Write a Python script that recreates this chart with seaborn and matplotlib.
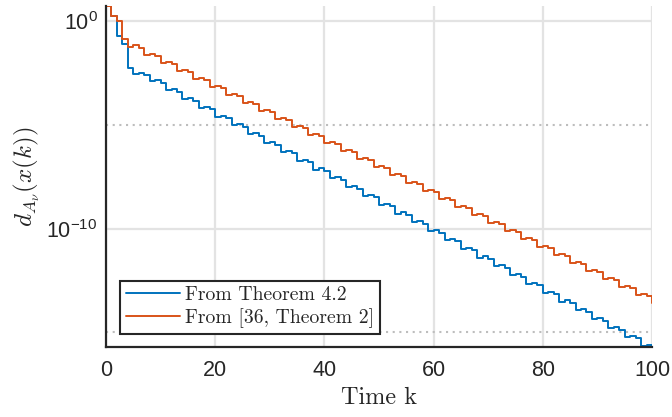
import numpy as np
import pandas as pd
import matplotlib
matplotlib.use("Agg")
import matplotlib.pyplot as plt
import matplotlib.ticker as mticker
import seaborn as sns

# ---- data (log10 of the distance) ----
k = list(range(101))

log_thm42 = [
    0.71, 0.23, -0.73, -1.13, -2.29, -2.55, -2.50, -2.62,
    -2.92, -2.86, -2.99, -3.34, -3.28, -3.41, -3.77, -3.71, -3.84,
    -4.19, -4.13, -4.26, -4.62, -4.56, -4.69, -5.04, -4.98, -5.11,
    -5.46, -5.40, -5.53, -5.89, -5.83, -5.96, -6.31, -6.25, -6.38,
    -6.74, -6.68, -6.81, -7.16, -7.10, -7.23, -7.58, -7.52, -7.65,
    -8.01, -7.95, -8.08, -8.43, -8.37, -8.50, -8.86, -8.80, -8.93,
    -9.28, -9.22, -9.35, -9.70, -9.64, -9.77, -10.13, -10.07, -10.20,
    -10.55, -10.49, -10.62, -10.98, -10.92, -11.05, -11.40, -11.34, -11.47,
    -11.82, -11.76, -11.89, -12.25, -12.19, -12.32, -12.67, -12.61, -12.74,
    -13.10, -13.04, -13.17, -13.52, -13.46, -13.59, -13.94, -13.88, -14.01,
    -14.37, -14.31, -14.44, -14.79, -14.73, -14.86, -15.22, -15.16, -15.29,
    -15.64, -15.58, -15.70,
]

log_ref36 = [
    0.71, 0.23, -0.01, -0.89, -1.26, -1.19, -1.32,
    -1.65, -1.58, -1.71, -2.04, -1.97, -2.10, -2.42, -2.35, -2.48,
    -2.81, -2.74, -2.87, -3.19, -3.12, -3.25, -3.58, -3.51, -3.64,
    -3.96, -3.89, -4.02, -4.35, -4.28, -4.41, -4.73, -4.66, -4.79,
    -5.12, -5.05, -5.18, -5.50, -5.43, -5.56, -5.89, -5.82, -5.95,
    -6.27, -6.20, -6.33, -6.66, -6.59, -6.72, -7.04, -6.97, -7.10,
    -7.43, -7.36, -7.49, -7.81, -7.74, -7.87, -8.20, -8.13, -8.26,
    -8.58, -8.51, -8.64, -8.97, -8.90, -9.03, -9.35, -9.28, -9.41,
    -9.74, -9.67, -9.80, -10.12, -10.05, -10.18, -10.51, -10.44, -10.57,
    -10.89, -10.82, -10.95, -11.28, -11.21, -11.34, -11.66, -11.59, -11.72,
    -12.05, -11.98, -12.11, -12.43, -12.36, -12.49, -12.82, -12.75, -12.88,
    -13.20, -13.13, -13.26, -13.59,
]

labels = ["From Theorem 4.2", "From [36, Theorem 2]"]
colors = ["#0072BD", "#D95319"]
x_ticks = [0, 20, 40, 60, 80, 100]
y_major = [1e0, 1e-10]
y_minor = [1e-5, 1e-15]
y_major_labels = [r"$\mathdefault{10^{0}}$", r"$\mathdefault{10^{-10}}$"]

df = pd.DataFrame({
    "k": k + k,
    "d": list(10.0 ** np.array(log_thm42)) + list(10.0 ** np.array(log_ref36)),
    "series": [labels[0]] * len(k) + [labels[1]] * len(k),
})

# ---- style ----
sns.set_style("white")
plt.rcParams["font.family"] = ["Liberation Sans", "DejaVu Sans"]
plt.rcParams["mathtext.fontset"] = "custom"
plt.rcParams["mathtext.rm"] = "Liberation Sans"
plt.rcParams["mathtext.it"] = "Liberation Sans:italic"
plt.rcParams["mathtext.bf"] = "Liberation Sans:bold"

fig = plt.figure(figsize=(6.72, 4.17), dpi=100)
ax = fig.add_axes([106 / 672, 1 - 347 / 417, (652 - 106) / 672, (347 - 6) / 417])
ax.set_yscale("log")
ax.set_axisbelow(True)

sns.lineplot(data=df, x="k", y="d", hue="series", hue_order=labels,
             palette=colors, drawstyle="steps-post", estimator=None,
             linewidth=1.4, ax=ax, legend=True)

ymin = 10.0 ** min(min(log_thm42), min(log_ref36))
ymax = 10.0 ** max(max(log_thm42), max(log_ref36))
ax.set_xlim(0, 100)
ax.set_ylim(ymin, ymax)

ax.xaxis.set_major_locator(mticker.FixedLocator(x_ticks))
ax.yaxis.set_major_locator(mticker.FixedLocator(y_major))
ax.yaxis.set_major_formatter(mticker.FixedFormatter(y_major_labels))
ax.yaxis.set_minor_locator(mticker.FixedLocator(y_minor))
ax.yaxis.set_minor_formatter(mticker.NullFormatter())
ax.xaxis.set_minor_locator(mticker.NullLocator())

ax.grid(which="major", color="#e3e3e3", linewidth=1.6, linestyle="-")
ax.grid(which="minor", axis="y", color="#bdbdbd", linewidth=1.5,
        linestyle=(0, (1, 2.2)))

for s in ["top", "right"]:
    ax.spines[s].set_visible(False)
for s in ["left", "bottom"]:
    ax.spines[s].set_color("#262626")
    ax.spines[s].set_linewidth(1.6)

ax.tick_params(which="both", direction="in", length=4.5, width=1.4,
               color="#262626", labelcolor="#262626", labelsize=15.5, pad=6)
ax.tick_params(axis="x", pad=9)

ax.set_xlabel("Time k", family="cmr10", fontsize=17.5, color="#262626")
ax.xaxis.set_label_coords(0.5, -0.118)
ax.set_ylabel(r"$d_{A_\nu}(x(k))$", math_fontfamily="cm", fontsize=18,
              color="#262626")
ax.yaxis.set_label_coords(-0.118, 0.5)

leg = ax.legend(loc="lower left", bbox_to_anchor=(0.0256, 0.038),
                borderaxespad=0, frameon=True, fancybox=False,
                prop={"family": "cmr10", "size": 14.2},
                handlelength=2.75, handletextpad=0.25, borderpad=0.3,
                labelspacing=0.2)
leg.get_frame().set_edgecolor("#262626")
leg.get_frame().set_linewidth(1.5)
leg.get_frame().set_alpha(1.0)
for line in leg.get_lines():
    line.set_linewidth(1.4)
for t in leg.get_texts():
    t.set_color("#262626")

fig.savefig("out.png", dpi=100)
